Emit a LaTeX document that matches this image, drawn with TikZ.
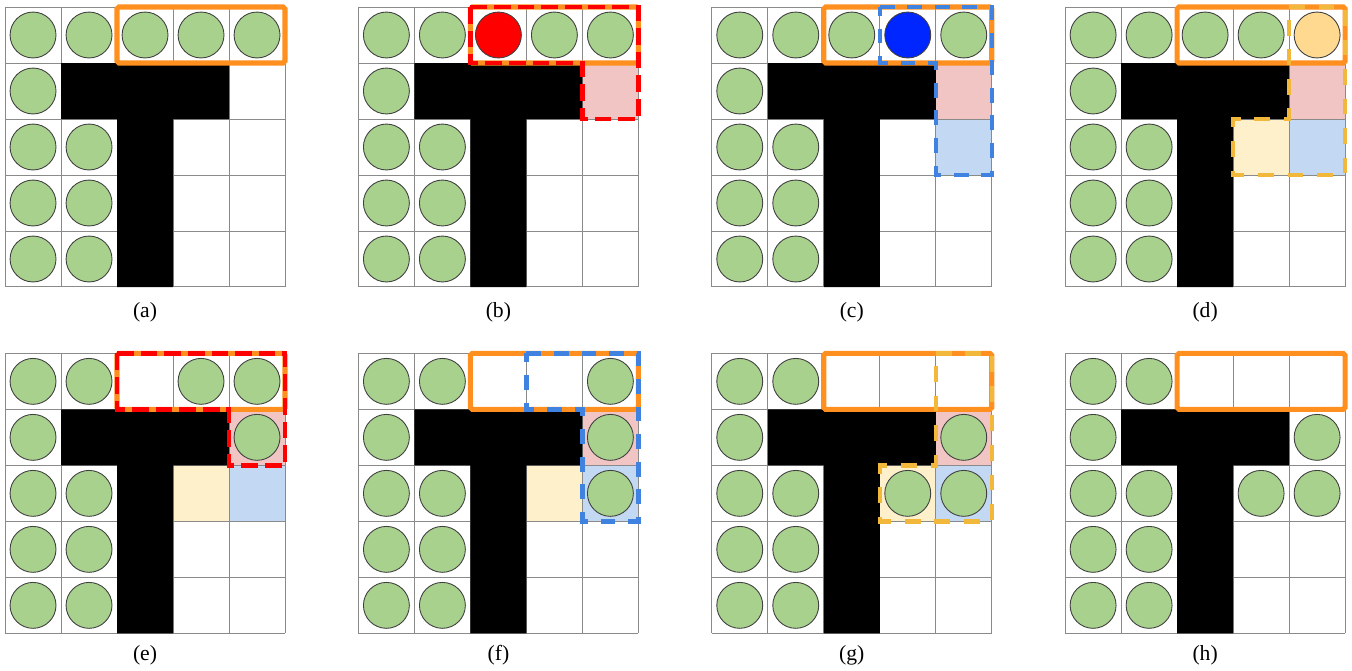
\documentclass[tikz,border=0pt]{standalone}
\usepackage{fontspec}
\setmainfont{Liberation Serif}
\usepackage{xcolor}
\usepackage{tikz}
\usetikzlibrary{positioning}
\definecolor{agentgreen}{HTML}{A9D18E}
\definecolor{agentbd}{HTML}{404040}
\definecolor{gridgray}{HTML}{8A8A8A}
\definecolor{framebd}{HTML}{FF8F1F}
\definecolor{hotred}{HTML}{FF0000}
\definecolor{deepblue}{HTML}{0026FF}
\definecolor{peach}{HTML}{FFD98F}
\definecolor{pinkbg}{HTML}{F2C5C5}
\definecolor{bluebg}{HTML}{C3D8F2}
\definecolor{creambg}{HTML}{FFF0CC}
\definecolor{dashblue}{HTML}{3F82E0}
\definecolor{dashgold}{HTML}{F2B83C}
\tikzset{
  gridline/.style={gridgray,line width=0.5pt},
  wall/.style={fill=black},
  agent/.style={draw=agentbd,fill=agentgreen,line width=0.45pt},
  window/.style={draw=framebd,line width=2.6pt,rounded corners=1pt},
  reddash/.style={draw=hotred,line width=2.3pt,dash pattern=on 8.5pt off 3.5pt},
  bluedash/.style={draw=dashblue,line width=2.3pt,dash pattern=on 7.5pt off 6.5pt},
  golddash/.style={draw=dashgold,line width=2.3pt,dash pattern=on 8pt off 7pt},
  caption/.style={font=\fontsize{11}{13}\selectfont,inner sep=0pt},
}
% grid, T-shaped wall and the agents that never move
\newcommand{\cellgrid}{%
  \draw[gridline] (0,0) grid (5,5);
  \fill[wall] (1,1) rectangle (4,2) (2,2) rectangle (3,5);
  \foreach \c/\r in {0/0,1/0,0/1,0/2,1/2,0/3,1/3,0/4,1/4}
    \draw[agent] (\c+.5,\r+.5) circle (0.41);
}
\newcommand{\tintcells}{%
  \fill[pinkbg] (4,1) rectangle (5,2);
  \fill[bluebg] (4,2) rectangle (5,3);
  \fill[creambg] (3,2) rectangle (4,3);
}
\newcommand{\topwindow}{\draw[window] (2,0) rectangle (5,1);}

\begin{document}
\begin{tikzpicture}
  \useasboundingbox (0,0) rectangle (24.143,-11.982);

  % (a) start
  \begin{scope}[shift={(0.09,-0.125)},yscale=-1]
    \cellgrid
    \foreach \c in {2,3,4} \draw[agent] (\c+.5,.5) circle (0.41);
    \topwindow
    \node[caption] (cap-a) at (2.5,5.45) {(a)};
  \end{scope}

  % (b) red agent picked
  \begin{scope}[shift={(6.40,-0.125)},yscale=-1]
    \fill[pinkbg] (4,1) rectangle (5,2);
    \cellgrid
    \draw[agent,fill=hotred] (2.5,.5) circle (0.41);
    \foreach \c in {3,4} \draw[agent] (\c+.5,.5) circle (0.41);
    \topwindow
    \draw[reddash] (2,0) -- (5,0) -- (5,2) -- (4,2) -- (4,1) -- (2,1) -- cycle;
    \node[caption] (cap-b) at (2.5,5.45) {(b)};
  \end{scope}

  % (c) blue agent picked
  \begin{scope}[shift={(12.71,-0.125)},yscale=-1]
    \fill[pinkbg] (4,1) rectangle (5,2);
    \fill[bluebg] (4,2) rectangle (5,3);
    \cellgrid
    \draw[agent,fill=deepblue] (3.5,.5) circle (0.41);
    \foreach \c in {2,4} \draw[agent] (\c+.5,.5) circle (0.41);
    \topwindow
    \draw[bluedash] (3,0) -- (5,0) -- (5,3) -- (4,3) -- (4,1) -- (3,1) -- cycle;
    \node[caption] (cap-c) at (2.5,5.45) {(c)};
  \end{scope}

  % (d) yellow agent picked
  \begin{scope}[shift={(19.02,-0.125)},yscale=-1]
    \tintcells
    \cellgrid
    \draw[agent,fill=peach] (4.5,.5) circle (0.41);
    \foreach \c in {2,3} \draw[agent] (\c+.5,.5) circle (0.41);
    \topwindow
    \draw[golddash] (4,0) -- (5,0) -- (5,3) -- (3,3) -- (3,2) -- (4,2) -- cycle;
    \node[caption] (cap-d) at (2.5,5.45) {(d)};
  \end{scope}

  % (e) first move
  \begin{scope}[shift={(0.09,-6.31)},yscale=-1]
    \tintcells
    \cellgrid
    \foreach \c/\r in {3/0,4/0,4/1} \draw[agent] (\c+.5,\r+.5) circle (0.41);
    \topwindow
    \draw[reddash] (2,0) -- (5,0) -- (5,2) -- (4,2) -- (4,1) -- (2,1) -- cycle;
    \node[caption] (cap-e) at (2.5,5.39) {(e)};
  \end{scope}

  % (f) second move
  \begin{scope}[shift={(6.40,-6.31)},yscale=-1]
    \tintcells
    \cellgrid
    \foreach \c/\r in {4/0,4/1,4/2} \draw[agent] (\c+.5,\r+.5) circle (0.41);
    \topwindow
    \draw[bluedash] (3,0) -- (5,0) -- (5,3) -- (4,3) -- (4,1) -- (3,1) -- cycle;
    \node[caption] (cap-f) at (2.5,5.39) {(f)};
  \end{scope}

  % (g) third move
  \begin{scope}[shift={(12.71,-6.31)},yscale=-1]
    \tintcells
    \cellgrid
    \foreach \c/\r in {4/1,3/2,4/2} \draw[agent] (\c+.5,\r+.5) circle (0.41);
    \topwindow
    \draw[golddash] (4,0) -- (5,0) -- (5,3) -- (3,3) -- (3,2) -- (4,2) -- cycle;
    \node[caption] (cap-g) at (2.5,5.39) {(g)};
  \end{scope}

  % (h) result
  \begin{scope}[shift={(19.02,-6.31)},yscale=-1]
    \cellgrid
    \foreach \c/\r in {4/1,3/2,4/2} \draw[agent] (\c+.5,\r+.5) circle (0.41);
    \topwindow
    \node[caption] (cap-h) at (2.5,5.39) {(h)};
  \end{scope}
\end{tikzpicture}
\end{document}
